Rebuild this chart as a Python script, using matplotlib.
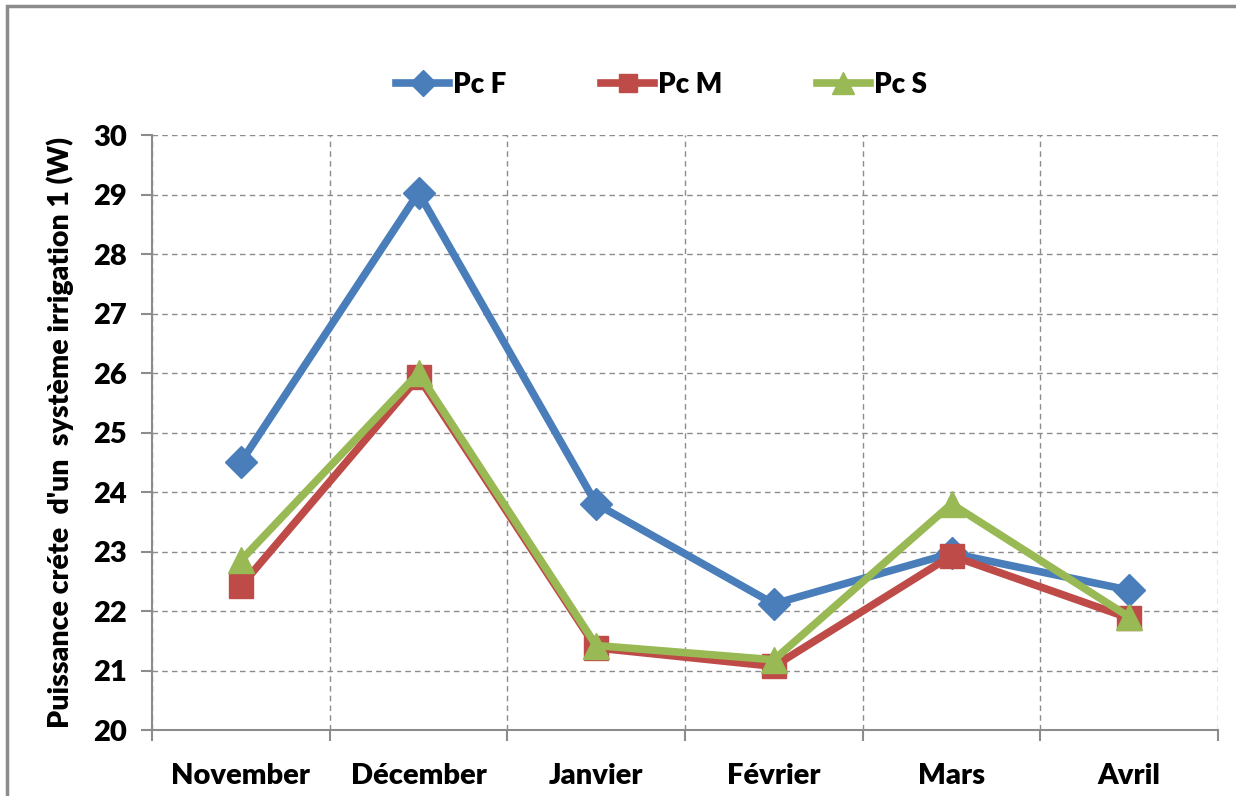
import matplotlib.pyplot as plt
from matplotlib.patches import Rectangle

mois = ["November", "Décember", "Janvier", "Février", "Mars", "Avril"]
pc_f = [24.5, 29.03, 23.8, 22.12, 22.97, 22.35]
pc_m = [22.42, 25.93, 21.38, 21.07, 22.93, 21.88]
pc_s = [22.85, 26.0, 21.42, 21.18, 23.8, 21.9]

plt.rcParams['font.family'] = ['Lato', 'DejaVu Sans']
plt.rcParams['font.weight'] = 'heavy'

fig = plt.figure(figsize=(12.36, 7.96), dpi=100)
ax = fig.add_axes([0.123, 0.0829, 0.8625, 0.7475])

# cadre gris autour du graphique
fig.patches.append(Rectangle((7 / 1236, -0.05), 1.1, 1 - 6 / 796 + 0.05,
                             transform=fig.transFigure, fill=False,
                             edgecolor='#8c8c8c', linewidth=2.5))

x = range(len(mois))
ax.plot(x, pc_f, color='#4A7EBB', lw=5.5, marker='D', ms=16, label='Pc F')
ax.plot(x, pc_m, color='#BE4B48', lw=5.5, marker='s', ms=17, label='Pc M')
ax.plot(x, pc_s, color='#98B954', lw=5.5, marker='^', ms=19, label='Pc S')

ax.set_xlim(-0.5, 5.5)
ax.set_ylim(20, 30)
ax.set_yticks(range(20, 31))
ax.set_xticks(list(x))
ax.set_xticklabels(mois)
ax.set_xticks([i - 0.5 for i in range(7)], minor=True)

ax.grid(True, axis='y', which='major', linestyle=(0, (4, 3)), color='#8c8c8c', lw=1)
ax.grid(True, axis='x', which='minor', linestyle=(0, (4, 3)), color='#8c8c8c', lw=1)
ax.set_axisbelow(True)

for s in ['top', 'right']:
    ax.spines[s].set_visible(False)
for s in ['left', 'bottom']:
    ax.spines[s].set_color('#8c8c8c')
    ax.spines[s].set_linewidth(1.5)

ax.tick_params(axis='x', which='major', length=0, pad=24, labelsize=21)
ax.tick_params(axis='x', which='minor', length=8, color='#8c8c8c', width=1.5)
ax.tick_params(axis='y', length=8, color='#8c8c8c', width=1.5, labelsize=21, pad=10)

ax.set_ylabel("Puissance créte  d'un  système irrigation 1 (W)", fontsize=20.5,
              fontweight='heavy', labelpad=14)

ax.legend(loc='lower center', bbox_to_anchor=(0.478, 1.02), ncol=3, frameon=False,
          fontsize=20, handlelength=1.9, handletextpad=0.15, columnspacing=3.4,
          markerscale=0.8)

fig.savefig('out.png', dpi=100)
